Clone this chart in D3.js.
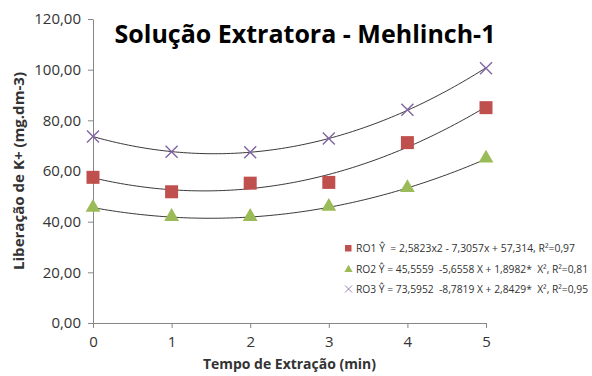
<!DOCTYPE html>
<html>
<head>
<meta charset="utf-8">
<script src="https://cdn.jsdelivr.net/npm/d3@7"></script>
<style>
  body { margin: 0; background: #fff; }
  text { font-family: "Open Sans", "DejaVu Sans", sans-serif; }
</style>
</head>
<body>
<svg id="chart" width="592" height="376"></svg>
<script>
// data
var tempos = [0, 1, 2, 3, 4, 5];
var ro1 = [57.5, 51.8, 55.2, 55.5, 71.2, 85.0];
var ro2 = [45.6, 42.0, 42.0, 46.0, 53.4, 65.0];
var ro3 = [73.6, 67.6, 67.4, 72.8, 84.2, 100.6];
var yTicks = [0, 20, 40, 60, 80, 100, 120];
// trend coefficients from the legend: a + b*x + c*x^2
var coef1 = [57.314, -7.3057, 2.5823];
var coef2 = [45.5559, -5.6558, 1.8982];
var coef3 = [73.5952, -8.7819, 2.8429];
var legendTexts = [
  "RO1 \u0176  = 2,5823x2 - 7,3057x + 57,314, R\u00b2=0,97",
  "RO2 \u0176 = 45,5559  -5,6558 X + 1,8982*  X\u00b2, R\u00b2=0,81",
  "RO3 \u0176 = 73,5952  -8,7819 X + 2,8429*  X\u00b2, R\u00b2=0,95"
];
var legendWidths = [219, 232, 232];

var svg = d3.select("#chart");
var x = d3.scaleLinear().domain([0, 5]).range([93, 486]);
var y = d3.scaleLinear().domain([0, 120]).range([323, 19]);
var fmt = function(d) { return d3.format(".2f")(d).replace(".", ","); };
var gray = "#868686";

// y axis
var yAxis = svg.append("g").attr("transform", "translate(93,0)")
  .call(d3.axisLeft(y).tickValues(yTicks).tickSize(5).tickSizeOuter(0).tickFormat(fmt));
yAxis.select(".domain").attr("stroke", gray);
yAxis.selectAll(".tick line").attr("stroke", gray);
yAxis.selectAll(".tick text").attr("font-size", 15).attr("fill", "#333").attr("x", -12)
  .attr("font-family", "Open Sans");

// x axis
var xAxis = svg.append("g").attr("transform", "translate(0,323)")
  .call(d3.axisBottom(x).tickValues(tempos).tickSize(5).tickSizeOuter(0).tickFormat(d3.format("d")));
xAxis.select(".domain").attr("stroke", gray);
xAxis.selectAll(".tick line").attr("stroke", gray);
xAxis.selectAll(".tick text").attr("font-size", 15).attr("fill", "#333").attr("y", 13)
  .attr("font-family", "Open Sans");

// trend curves
var xs = d3.range(0, 5.001, 0.05);
var line = d3.line().x(function(d) { return x(d[0]); }).y(function(d) { return y(d[1]); });
[coef1, coef2, coef3].forEach(function(c) {
  svg.append("path")
    .datum(xs.map(function(t) { return [t, c[0] + c[1] * t + c[2] * t * t]; }))
    .attr("d", line)
    .attr("fill", "none")
    .attr("stroke", "#222")
    .attr("stroke-width", 0.9);
});

// markers
svg.append("g").selectAll("rect").data(ro1).join("rect")
  .attr("x", function(d, i) { return x(tempos[i]) - 6.5; })
  .attr("y", function(d) { return y(d) - 6.5; })
  .attr("width", 13).attr("height", 13)
  .attr("fill", "#C0504D");

var tri = d3.symbol().type(d3.symbolTriangle).size(95);
svg.append("g").selectAll("path").data(ro2).join("path")
  .attr("d", tri)
  .attr("transform", function(d, i) { return "translate(" + x(tempos[i]) + "," + y(d) + ")"; })
  .attr("fill", "#9BBB59");

var cross = "M-6,-6L6,6M-6,6L6,-6";
svg.append("g").selectAll("path").data(ro3).join("path")
  .attr("d", cross)
  .attr("transform", function(d, i) { return "translate(" + x(tempos[i]) + "," + y(d) + ")"; })
  .attr("fill", "none")
  .attr("stroke", "#8064A2")
  .attr("stroke-width", 1.4);

// title
svg.append("text")
  .attr("x", 305).attr("y", 43)
  .attr("text-anchor", "middle")
  .attr("font-size", 25).attr("font-weight", "bold").attr("fill", "#000")
  .text("Solução Extratora - Mehlinch-1");

// axis titles
svg.append("text")
  .attr("x", 289.5).attr("y", 369)
  .attr("text-anchor", "middle")
  .attr("font-size", 14).attr("font-weight", "bold").attr("fill", "#333")
  .attr("textLength", 173).attr("lengthAdjust", "spacingAndGlyphs")
  .text("Tempo de Extração (min)");

svg.append("text")
  .attr("transform", "translate(24,171) rotate(-90)")
  .attr("text-anchor", "middle")
  .attr("font-size", 14.5).attr("font-weight", "bold").attr("fill", "#333")
  .attr("textLength", 198).attr("lengthAdjust", "spacingAndGlyphs")
  .text("Liberação de K+ (mg.dm-3)");

// legend
var leg = svg.append("g").attr("transform", "translate(348,248)");
var rowH = 20.5;
leg.append("rect").attr("x", -3).attr("y", -3).attr("width", 6.5).attr("height", 6.5).attr("fill", "#C0504D");
leg.append("path").attr("d", d3.symbol().type(d3.symbolTriangle).size(30))
  .attr("transform", "translate(0.5," + (rowH + 1) + ")").attr("fill", "#9BBB59");
leg.append("path").attr("d", "M-3.5,-3.5L3.5,3.5M-3.5,3.5L3.5,-3.5")
  .attr("transform", "translate(0.5," + (2 * rowH) + ")")
  .attr("stroke", "#8064A2").attr("stroke-width", 0.8).attr("fill", "none");
leg.selectAll("text.lg").data(legendTexts).join("text")
  .attr("class", "lg")
  .attr("x", 8).attr("y", function(d, i) { return i * rowH + 4; })
  .attr("font-size", 10).attr("fill", "#333")
  .style("white-space", "pre")
  .attr("textLength", function(d, i) { return legendWidths[i]; })
  .attr("lengthAdjust", "spacingAndGlyphs")
  .text(function(d) { return d; });
</script>
</body>
</html>
